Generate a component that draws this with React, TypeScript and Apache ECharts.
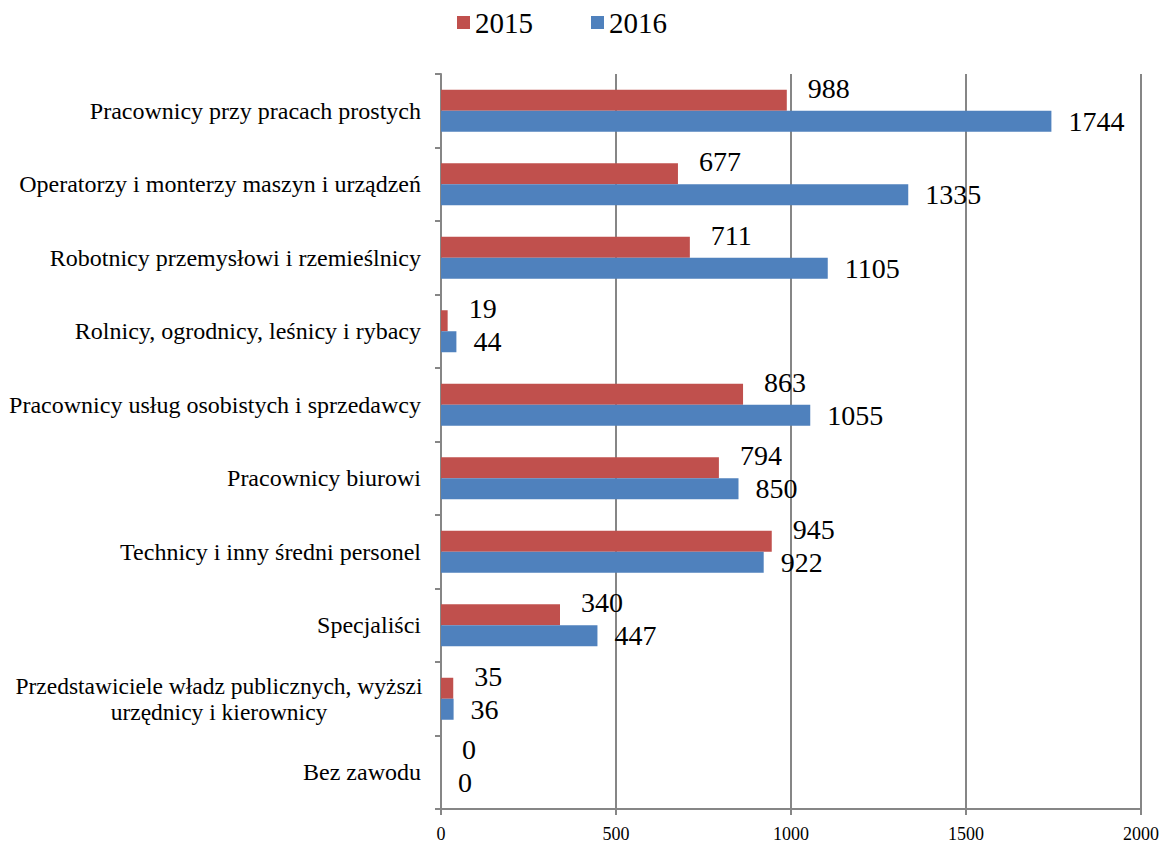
import React, { useEffect, useRef } from "react";
import * as echarts from "echarts";

const categories: string[] = [
  "Pracownicy przy pracach prostych",
  "Operatorzy i monterzy maszyn i urządzeń",
  "Robotnicy przemysłowi i rzemieślnicy",
  "Rolnicy, ogrodnicy, leśnicy i rybacy",
  "Pracownicy usług osobistych i sprzedawcy",
  "Pracownicy biurowi",
  "Technicy i inny średni personel",
  "Specjaliści",
  "Przedstawiciele władz publicznych, wyższi\nurzędnicy i kierownicy",
  "Bez zawodu",
];
const values2015: number[] = [988, 677, 711, 19, 863, 794, 945, 340, 35, 0];
const values2016: number[] = [1744, 1335, 1105, 44, 1055, 850, 922, 447, 36, 0];
const seriesNames: string[] = ["2015", "2016"];
const xTicks = { min: 0, max: 2000, interval: 500 };

const FONT = "Liberation Serif";

export default function App() {
  const ref = useRef<HTMLDivElement>(null);
  useEffect(() => {
    if (!ref.current) return;
    const chart = echarts.init(ref.current, undefined, { renderer: "svg" });
    chart.setOption({
      animation: false,
      backgroundColor: "#ffffff",
      textStyle: { fontFamily: FONT, color: "#000" },
      legend: {
        data: seriesNames,
        left: 452,
        top: 3,
        icon: "rect",
        itemWidth: 13,
        itemHeight: 13,
        itemGap: 58,
        textStyle: { fontFamily: FONT, fontSize: 29, color: "#000", padding: [0, 0, 0, 0] },
      },
      grid: { left: 441, right: 23, top: 74, bottom: 33, containLabel: false },
      xAxis: {
        type: "value",
        min: xTicks.min,
        max: xTicks.max,
        interval: xTicks.interval,
        axisLine: { show: true, lineStyle: { color: "#868686", width: 2 } },
        axisTick: { show: true, length: 6, lineStyle: { color: "#868686", width: 2 } },
        splitLine: { show: true, lineStyle: { color: "#868686", width: 2 } },
        axisLabel: {
          fontFamily: FONT,
          fontSize: 18,
          color: "#000",
          margin: 16,
          formatter: (v: number) => String(v),
        },
      },
      yAxis: {
        type: "category",
        inverse: true,
        data: categories,
        axisLine: { show: true, lineStyle: { color: "#868686", width: 2 } },
        axisTick: { show: true, length: 6, lineStyle: { color: "#868686", width: 2 } },
        axisLabel: {
          fontFamily: FONT,
          fontSize: 24,
          color: "#000",
          margin: 20,
          lineHeight: 26,
          formatter: (v: string) =>
            v.indexOf("\n") >= 0
              ? v.split("\n").map((l) => `{c|${l}}`).join("\n")
              : v,
          rich: {
            c: { width: 404, align: "center", fontFamily: FONT, fontSize: 23.5, lineHeight: 26, color: "#000" },
          },
        },
      },
      series: [
        {
          name: seriesNames[0],
          type: "bar",
          data: values2015,
          barWidth: 21,
          barGap: "0%",
          itemStyle: { color: "#c0504d" },
          label: {
            show: true,
            position: "right",
            distance: 21,
            offset: [0, -12],
            fontFamily: FONT,
            fontSize: 28,
            color: "#000",
          },
        },
        {
          name: seriesNames[1],
          type: "bar",
          data: values2016,
          barWidth: 21,
          barGap: "0%",
          itemStyle: { color: "#4f81bd" },
          label: {
            show: true,
            position: "right",
            distance: 17,
            offset: [0, 0],
            fontFamily: FONT,
            fontSize: 28,
            color: "#000",
          },
        },
      ],
    });
    return () => chart.dispose();
  }, []);
  return <div ref={ref} style={{ width: 1164, height: 843, position: "absolute", left: 0, top: 0 }} />;
}
